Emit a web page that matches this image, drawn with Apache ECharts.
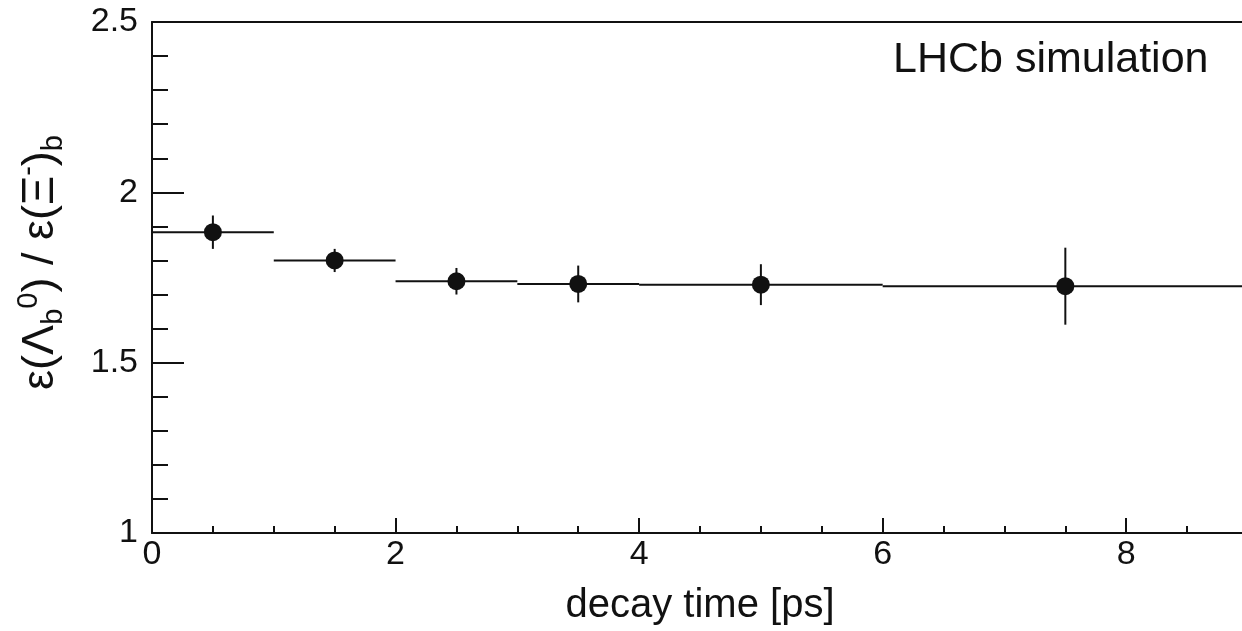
<!DOCTYPE html>
<html>
<head>
<meta charset="utf-8">
<script src="https://cdn.jsdelivr.net/npm/echarts@6/dist/echarts.min.js"></script>
<style>
html,body{margin:0;padding:0;background:#fff;overflow:hidden;width:1242px;height:631px;}
#c{width:1251px;height:631px;}
</style>
</head>
<body>
<div id="c"></div>
<script>
// Data
var binLow  = [0, 1, 2, 3, 4, 6];
var binHigh = [1, 2, 3, 4, 6, 9];
var centers = [0.5, 1.5, 2.5, 3.5, 5, 7.5];
var ratio   = [1.883, 1.800, 1.739, 1.731, 1.729, 1.7245];
var errors  = [0.049, 0.034, 0.039, 0.054, 0.060, 0.113];
var xTicks  = [0, 2, 4, 6, 8];
var yTicks  = [1, 1.5, 2, 2.5];

var FONT = '"Liberation Sans", Arial, Helvetica, sans-serif';
var INK = '#111';

var chart = echarts.init(document.getElementById('c'), null, {renderer: 'canvas'});

var customData = binLow.map(function (lo, i) {
  return [lo, binHigh[i], ratio[i], errors[i], centers[i]];
});
var pointData = centers.map(function (c, i) { return [c, ratio[i]]; });

chart.setOption({
  backgroundColor: '#fff',
  animation: false,
  grid: {left: 152, top: 22, bottom: 96, right: 0, containLabel: false},
  xAxis: [{
    type: 'value', min: 0, max: 9, interval: 2,
    position: 'bottom',
    name: 'decay time [ps]', nameLocation: 'middle', nameGap: 53,
    nameTextStyle: {fontSize: 40, color: INK, fontFamily: FONT},
    axisLine: {show: true, onZero: false, lineStyle: {color: INK, width: 2}},
    axisTick: {show: true, inside: true, length: 15, lineStyle: {color: INK, width: 2}},
    minorTick: {show: true, splitNumber: 4, length: 7, lineStyle: {color: INK, width: 2}},
    axisLabel: {fontSize: 34, color: INK, fontFamily: FONT, margin: 5,
      formatter: function (v) { return xTicks.indexOf(v) >= 0 ? String(v) : ''; }},
    splitLine: {show: false}
  }, {
    type: 'value', min: 0, max: 9, position: 'top',
    axisLine: {show: true, onZero: false, lineStyle: {color: INK, width: 2}},
    axisTick: {show: false}, axisLabel: {show: false}, splitLine: {show: false}
  }],
  yAxis: [{
    type: 'value', min: 1, max: 2.5, interval: 0.5,
    name: '{m|ε(Λ}{sub|b}{sup|0}{m|) / ε(Ξ}{sup|-}{m|)}{sub|b}',
    nameLocation: 'middle', nameRotate: 90, nameGap: 84,
    nameTextStyle: {
      color: INK, fontFamily: FONT, padding: [0, 0, 0, 30],
      rich: {
        m: {fontSize: 45, lineHeight: 54, fontFamily: FONT, color: INK, verticalAlign: 'middle'},
        sub: {fontSize: 29, lineHeight: 29, fontFamily: FONT, color: INK, verticalAlign: 'bottom'},
        sup: {fontSize: 29, lineHeight: 29, fontFamily: FONT, color: INK, verticalAlign: 'top'}
      }
    },
    axisLine: {show: true, onZero: false, lineStyle: {color: INK, width: 2}},
    axisTick: {show: true, inside: true, length: 32, lineStyle: {color: INK, width: 2}},
    minorTick: {show: true, splitNumber: 5, length: 16, lineStyle: {color: INK, width: 2}},
    axisLabel: {fontSize: 34, color: INK, fontFamily: FONT, margin: 14,
      formatter: function (v) {
        for (var k = 0; k < yTicks.length; k++) { if (Math.abs(yTicks[k] - v) < 1e-9) return String(yTicks[k]); }
        return '';
      }},
    splitLine: {show: false}
  }],
  graphic: [{
    type: 'text', left: 893, top: 39,
    style: {text: 'LHCb simulation', fontSize: 43, fontFamily: FONT, fill: INK}
  }],
  series: [{
    type: 'custom',
    data: customData,
    clip: false,
    renderItem: function (params, api) {
      var lo = api.value(0), hi = api.value(1), v = api.value(2), e = api.value(3), c = api.value(4);
      var pLo = api.coord([lo, v]);
      var pHi = api.coord([hi, v]);
      var pUp = api.coord([c, v + e]);
      var pDn = api.coord([c, v - e]);
      var st = {stroke: INK, lineWidth: 2};
      return {
        type: 'group',
        children: [
          {type: 'line', shape: {x1: pLo[0], y1: pLo[1], x2: pHi[0], y2: pHi[1]}, style: st},
          {type: 'line', shape: {x1: pUp[0], y1: pUp[1], x2: pDn[0], y2: pDn[1]}, style: st}
        ]
      };
    },
    z: 2
  }, {
    type: 'scatter',
    data: pointData,
    symbol: 'circle',
    symbolSize: 18,
    itemStyle: {color: INK, opacity: 1},
    z: 3
  }]
});
</script>
</body>
</html>
